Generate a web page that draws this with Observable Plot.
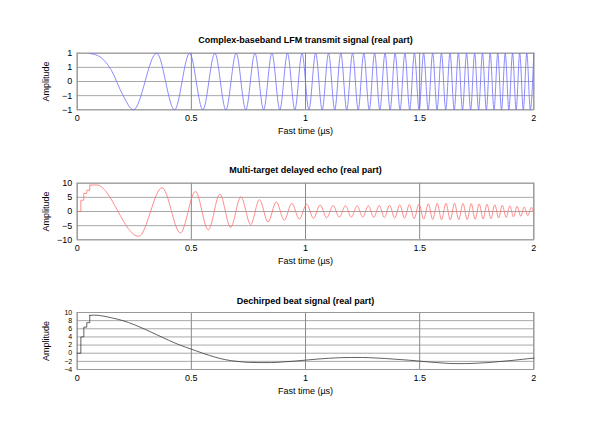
<!DOCTYPE html>
<html><head><meta charset="utf-8">
<script src="https://cdn.jsdelivr.net/npm/d3@7"></script>
<script src="https://cdn.jsdelivr.net/npm/@observablehq/plot@0.6"></script>
<style>
body{margin:0;background:#fff;}
#fig{position:relative;width:591px;height:429px;overflow:hidden;background:#fff;}
#fig > svg{position:absolute;left:0;}
</style></head><body><div id="fig"></div>
<script>
// ---------- tick labels ----------
const xTicks = [0, 0.5, 1, 1.5, 2];
const txYTicks = [-1, -0.5, 0, 0.5, 1];
const echoYTicks = [-10, -5, 0, 5, 10];
const beatYTicks = [-4, -2, 0, 2, 4, 6, 8, 10];

// ---------- titles ----------
const titles = [
  "Complex-baseband LFM transmit signal (real part)",
  "Multi-target delayed echo (real part)",
  "Dechirped beat signal (real part)"
];

// ---------- transmit signal (extrema) ----------
const txTime = [0.055, 0.1, 0.15, 0.2,
  0.2462, 0.3482, 0.4264, 0.4924, 0.5505, 0.6030, 0.6513, 0.6963, 0.7385, 0.7785,
  0.8165, 0.8528, 0.8876, 0.9211, 0.9534, 0.9847, 1.0150, 1.0445, 1.0731, 1.1009,
  1.1281, 1.1547, 1.1806, 1.2060, 1.2309, 1.2553, 1.2792, 1.3027, 1.3257, 1.3484,
  1.3707, 1.3926, 1.4142, 1.4355, 1.4564, 1.4771, 1.4975, 1.5175, 1.5374, 1.5570,
  1.5763, 1.5954, 1.6143, 1.6330, 1.6514, 1.6697, 1.6877, 1.7056, 1.7233, 1.7408,
  1.7581, 1.7752, 1.7922, 1.8090, 1.8257, 1.8422, 1.8586, 1.8748, 1.8909, 1.9069,
  1.9227, 1.9384, 1.9540, 1.9694, 1.9848, 2.0000];
const txValue = [0.99, 0.87, 0.39, -0.48,
  -1, 1, -1, 1, -1, 1, -1, 1, -1, 1,
  -1, 1, -1, 1, -1, 1, -1, 1, -1, 1,
  -1, 1, -1, 1, -1, 1, -1, 1, -1, 1,
  -1, 1, -1, 1, -1, 1, -1, 1, -1, 1,
  -1, 1, -1, 1, -1, 1, -1, 1, -1, 1,
  -1, 1, -1, 1, -1, 1, -1, 1, -1, 1,
  -1, 1, -1, 1, -1, 1];

// ---------- echo: onset steps + extrema ----------
const echoStepTime = [0, 0.016, 0.029, 0.042, 0.055];
const echoStepValue = [0, 4.0, 6.4, 7.5, 9.3];
const echoTime = [0.055, 0.085,
  0.269, 0.372, 0.452, 0.518, 0.574, 0.625, 0.672, 0.717, 0.760, 0.798,
  0.836, 0.872, 0.907, 0.940, 0.973, 1.005, 1.035, 1.064, 1.093, 1.121,
  1.148, 1.175, 1.201, 1.226, 1.251, 1.275, 1.299, 1.323, 1.346, 1.368,
  1.391, 1.413, 1.434, 1.455, 1.476, 1.497, 1.518, 1.538, 1.557, 1.577,
  1.596, 1.615, 1.634, 1.653, 1.671, 1.690, 1.708, 1.726, 1.743, 1.761,
  1.778, 1.795, 1.812, 1.829, 1.846, 1.862, 1.879, 1.895, 1.911, 1.927,
  1.943, 1.958, 1.974, 1.989, 2.0];
const echoValue = [9.3, 9.4,
  -8.8, 8.4, -7.6, 7.1, -6.5, 6.1, -5.6, 5.2, -4.6, 4.2,
  -3.7, 3.4, -3.1, 2.9, -2.7, 2.6, -2.4, 2.3, -2.2, 2.1,
  -2.0, 2.0, -2.0, 2.0, -2.0, 2.05, -2.1, 2.1, -2.15, 2.2,
  -2.3, 2.35, -2.4, 2.5, -2.55, 2.65, -2.7, 2.75, -2.8, 2.85,
  -2.9, 2.9, -2.9, 2.9, -2.9, 2.85, -2.85, 2.8, -2.75, 2.7,
  -2.65, 2.55, -2.5, 2.4, -2.3, 2.2, -2.1, 2.0, -1.9, 1.8,
  -1.7, 1.6, -1.5, 1.5, -0.8];

// ---------- beat signal ----------
const beatStepTime = [0, 0.016, 0.029, 0.042, 0.055];
const beatStepValue = [0, 4.0, 6.4, 7.5, 9.3];
const beatTime = [0.055, 0.075, 0.15, 0.2, 0.25, 0.3, 0.35, 0.4, 0.45, 0.5,
  0.55, 0.6, 0.65, 0.7, 0.75, 0.8, 0.85, 0.9, 0.95, 1.0,
  1.05, 1.1, 1.15, 1.2, 1.25, 1.3, 1.35, 1.4, 1.45, 1.5,
  1.55, 1.6, 1.65, 1.7, 1.75, 1.8, 1.85, 1.9, 1.95, 2.0];
const beatValue = [9.3, 9.35, 8.7, 8.0, 7.0, 5.8, 4.5, 3.2, 2.0, 1.0,
  0.0, -0.9, -1.6, -2.0, -2.25, -2.3, -2.3, -2.15, -1.95, -1.7,
  -1.45, -1.25, -1.1, -1.05, -1.05, -1.15, -1.3, -1.5, -1.7, -1.95,
  -2.2, -2.4, -2.55, -2.55, -2.45, -2.3, -2.05, -1.8, -1.5, -1.2];

const zip = (t, v) => t.map((d, i) => ({t: d, v: v[i]}));

const fig = document.getElementById("fig");
const W = 591, FL = 76.7, FR = 533.3;

function panel({top, height, frameTop, frameBottom, title, titleDy, yDomain, yTicks, yTickFont, steps, smooth, color}) {
  const svg = Plot.plot({
    width: W, height,
    marginTop: frameTop - top,
    marginBottom: top + height - frameBottom,
    marginLeft: FL, marginRight: W - FR,
    style: {fontFamily: "'Liberation Sans', Arial, Helvetica, sans-serif", fontSize: "9px", background: "transparent", color: "#000", overflow: "visible"},
    x: {domain: [0, 2]},
    y: {domain: yDomain},
    marks: [
      Plot.gridY(yTicks, {stroke: "#a8a8a8", strokeOpacity: 1, strokeWidth: 1}),
      Plot.gridX(xTicks, {stroke: "#8a8a8a", strokeOpacity: 1, strokeWidth: 1}),
      Plot.frame({stroke: "#999"}),
      Plot.axisX(xTicks, {tickSize: 0, tickPadding: 5, tickFormat: d => String(d), label: "Fast time (µs)", labelAnchor: "center", labelArrow: "none", labelOffset: 24}),
      Plot.axisY(yTicks, {tickSize: 0, tickPadding: 5, label: null, fontSize: yTickFont}),
      Plot.axisY({tickSize: 0, ticks: [], label: "Amplitude", labelAnchor: "center", labelArrow: "none", labelOffset: 35}),
      steps ? Plot.line(steps, {x: "t", y: "v", curve: "step-after", stroke: color, strokeWidth: 0.8}) : null,
      Plot.line(smooth, {x: "t", y: "v", curve: "monotone-x", stroke: color, strokeWidth: 0.8}),
      Plot.text([title], {frameAnchor: "top", dy: titleDy, lineAnchor: "bottom", fontWeight: "bold", fontSize: 9, text: d => d})
    ]
  });
  svg.style.top = top + "px";
  fig.appendChild(svg);
}

panel({top: 0, height: 140, frameTop: 52.7, frameBottom: 109.3, title: titles[0], titleDy: -10,
  yDomain: [-1, 1], yTicks: txYTicks, yTickFont: 9, steps: null, smooth: zip(txTime, txValue), color: "#6f6fff"});
panel({top: 140, height: 132, frameTop: 182.7, frameBottom: 239.3, title: titles[1], titleDy: -10,
  yDomain: [-10, 10], yTicks: echoYTicks, yTickFont: 9, steps: zip(echoStepTime, echoStepValue), smooth: zip(echoTime, echoValue), color: "#ff7070"});
panel({top: 272, height: 157, frameTop: 312, frameBottom: 369, title: titles[2], titleDy: -9,
  yDomain: [-4, 10], yTicks: beatYTicks, yTickFont: 7, steps: zip(beatStepTime, beatStepValue), smooth: zip(beatTime, beatValue), color: "#3a3a3a"});
</script></body></html>
